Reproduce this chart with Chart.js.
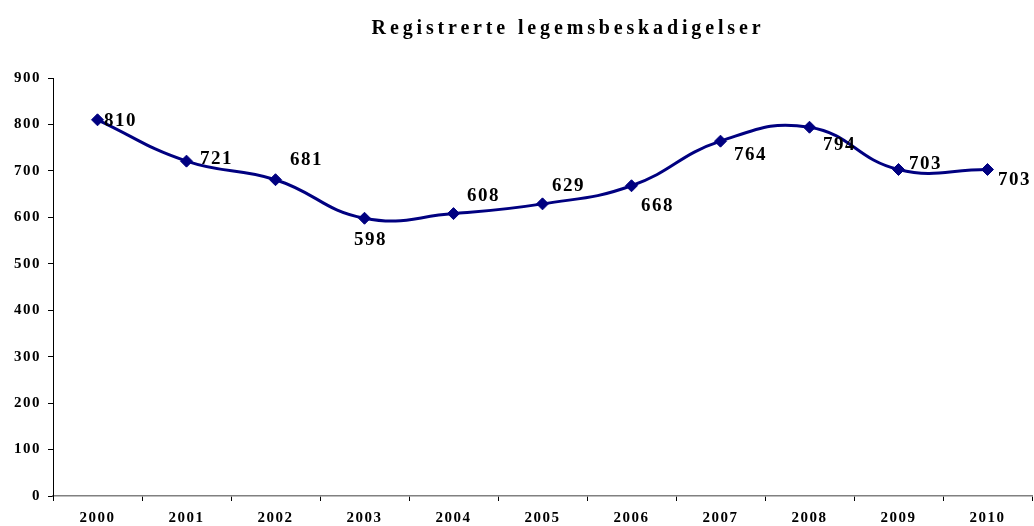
<!DOCTYPE html>
<html lang="no">
<head>
<meta charset="utf-8"/>
<title>Registrerte legemsbeskadigelser</title>
<script src="https://cdn.jsdelivr.net/npm/chart.js@4.4.3/dist/chart.umd.min.js"></script>
<style>
  html, body { margin: 0; padding: 0; background: #fff; overflow: hidden; }
  #wrap { width: 1034px; height: 526px; }
  canvas { display: block; }
</style>
</head>
<body>
<div id="wrap"><canvas id="c" width="1034" height="526"></canvas></div>
<script>
// data
const TITLE = 'Registrerte legemsbeskadigelser';
const years = ['2000', '2001', '2002', '2003', '2004', '2005', '2006', '2007', '2008', '2009', '2010'];
const injuries = [810, 721, 681, 598, 608, 629, 668, 764, 794, 703, 703];
const yTicks = [0, 100, 200, 300, 400, 500, 600, 700, 800, 900];

// where each value label sits relative to its point (px)
const labelOffsets = [[23, 1], [30, -2], [31, -20], [6, 22], [30, -18], [26, -18], [26, 20], [30, 14], [30, 18], [27, -5], [27, 11]];

const NAVY = '#000080';
const SERIF = '"Liberation Serif", "Times New Roman", serif';

// canvas letterSpacing is part of ctx state; Chart.js save/restore keeps it
const spacing = {
  id: 'spacing',
  beforeLayout(chart) { chart.ctx.letterSpacing = '1.5px'; },
  beforeDraw(chart) { chart.ctx.letterSpacing = '1.5px'; },
};

const extras = {
  id: 'extras',
  afterDatasetsDraw(chart) {
    const ctx = chart.ctx;
    const meta = chart.getDatasetMeta(0);
    ctx.save();
    ctx.fillStyle = '#000';
    ctx.textAlign = 'center';
    ctx.textBaseline = 'middle';
    ctx.letterSpacing = '1.5px';
    ctx.font = 'bold 19px ' + SERIF;
    meta.data.forEach((pt, i) => {
      const [dx, dy] = labelOffsets[i];
      ctx.fillText(String(injuries[i]), pt.x + dx, pt.y + dy);
    });
    // title
    ctx.letterSpacing = '3.85px';
    ctx.font = 'bold 20px ' + SERIF;
    ctx.fillText(TITLE, 568, 29);
    ctx.restore();
  },
};

new Chart(document.getElementById('c'), {
  type: 'line',
  data: {
    labels: years,
    datasets: [{
      data: injuries,
      borderColor: NAVY,
      backgroundColor: NAVY,
      borderWidth: 3,
      tension: 0.45,
      pointStyle: 'rectRot',
      pointRadius: 6,
      pointBackgroundColor: NAVY,
      pointBorderColor: NAVY,
      pointBorderWidth: 1,
      fill: false,
    }],
  },
  options: {
    responsive: false,
    animation: false,
    devicePixelRatio: 1,
    layout: { autoPadding: false, padding: { top: 78, right: 2, left: 0, bottom: 0 } },
    plugins: { legend: { display: false }, tooltip: { enabled: false } },
    scales: {
      x: {
        offset: true,
        grid: { display: true, drawOnChartArea: false, drawTicks: true, tickLength: 5, color: '#000', offset: true },
        border: { color: '#808080', width: 1.5 },
        ticks: { color: '#000', font: { family: SERIF, size: 15, weight: 'bold' }, padding: 8, maxRotation: 0 },
        afterFit: (s) => { s.height = 30; s.paddingLeft = 0; s.paddingRight = 0; },
      },
      y: {
        min: 0,
        max: 900,
        afterBuildTicks: (s) => { s.ticks = yTicks.map((v) => ({ value: v })); },
        grid: { display: true, drawOnChartArea: false, drawTicks: true, tickLength: 5, color: '#000' },
        border: { color: '#000', width: 1 },
        ticks: { color: '#000', font: { family: SERIF, size: 15, weight: 'bold' }, padding: 7 },
        afterFit: (s) => { s.width = 53; },
      },
    },
  },
  plugins: [spacing, extras],
});
</script>
</body>
</html>
